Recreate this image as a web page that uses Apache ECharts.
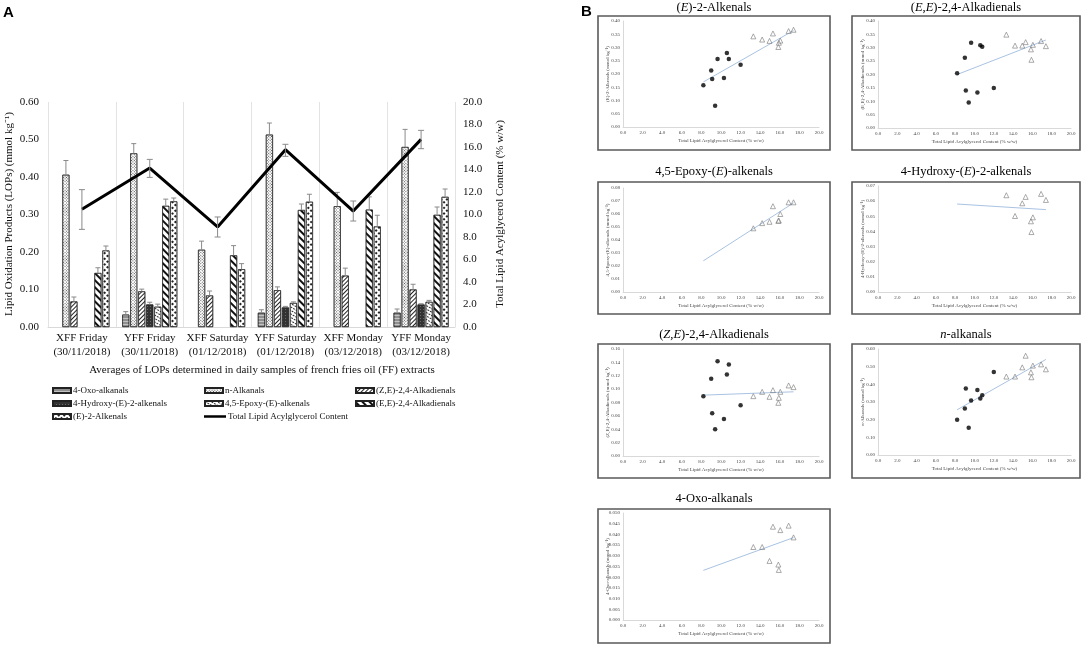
<!DOCTYPE html>
<html><head><meta charset="utf-8">
<script src="https://cdn.jsdelivr.net/npm/echarts@6.0.0/dist/echarts.min.js"></script>
<style>html,body{margin:0;padding:0;background:#fff}#c{width:1084px;height:646px}</style>
</head><body><div id="c"></div>
<script>
// ---------- Panel A data ----------
const categories = ['XFF Friday\n(30/11/2018)','YFF Friday\n(30/11/2018)','XFF Saturday\n(01/12/2018)','YFF Saturday\n(01/12/2018)','XFF Monday\n(03/12/2018)','YFF Monday\n(03/12/2018)'];
const seriesNames = ['4-Oxo-alkanals','n-Alkanals','(Z,E)-2,4-Alkadienals','4-Hydroxy-(E)-2-alkenals','4,5-Epoxy-(E)-alkenals','(E,E)-2,4-Alkadienals','(E)-2-Alkenals','Total Lipid Acylglycerol Content'];
const oxo    = [null, 0.033, null, 0.038, null, 0.038];
const oxoErr = [null, 0.008, null, 0.008, null, 0.010];
const nalk    = [0.406, 0.463, 0.206, 0.513, 0.322, 0.480];
const nalkErr = [0.038, 0.026, 0.023, 0.031, 0.037, 0.047];
const zeBar    = [0.068, 0.095, 0.084, 0.098, 0.137, 0.100];
const zeBarErr = [0.012, 0.006, 0.012, 0.009, 0.020, 0.014];
const hyd    = [null, 0.060, null, 0.052, null, 0.060];
const hydErr = [null, 0.006, null, 0.003, null, 0.002];
const epo    = [null, 0.054, null, 0.064, null, 0.067];
const epoErr = [null, 0.007, null, 0.003, null, 0.004];
const eeBar    = [0.144, 0.323, 0.191, 0.312, 0.313, 0.299];
const eeBarErr = [0.014, 0.018, 0.026, 0.016, 0.034, 0.021];
const e2Bar    = [0.204, 0.335, 0.154, 0.334, 0.268, 0.347];
const e2BarErr = [0.012, 0.009, 0.015, 0.020, 0.030, 0.021];
const tlac     = [10.46, 14.13, 8.89, 15.76, 10.31, 16.68];
const tlacLow  = [8.68, 13.30, 8.00, 15.17, 9.42, 15.85];
const tlacHigh = [12.21, 14.90, 9.78, 16.24, 11.20, 17.48];
const leftTicks = {min: 0, max: 0.6, interval: 0.1};
const rightTicks = {min: 0, max: 20, interval: 2};

// ---------- Panel B data ----------
const xffX = [8.2, 9.0, 9.1, 9.4, 9.65, 10.3, 10.6, 10.8, 12.0];
const yffX = [13.3, 14.2, 14.95, 15.3, 15.85, 15.9, 16.05, 16.9, 17.4];
const trendX = [8.2, 17.4];
const e2Xff = [0.158, 0.213, 0.181, 0.080, 0.257, 0.185, 0.279, 0.257, 0.235];
const e2Yff = [0.342, 0.330, 0.325, 0.353, 0.302, 0.318, 0.326, 0.362, 0.367];
const e2Trend = [0.170, 0.364];
const eeXff = [0.205, 0.263, 0.140, 0.095, 0.319, 0.133, 0.309, 0.304, 0.150];
const eeYff = [0.349, 0.308, 0.308, 0.321, 0.294, 0.255, 0.311, 0.325, 0.306];
const eeTrend = [0.200, 0.329];
const epYff = [0.049, 0.053, 0.054, 0.066, 0.0547, 0.055, 0.060, 0.069, 0.069];
const epTrend = [0.024, 0.0685];
const hyYff = [0.0639, 0.0502, 0.0586, 0.0628, 0.0467, 0.0396, 0.0493, 0.0648, 0.0608];
const hyTrend = [0.0581, 0.0544];
const zeXff = [0.0895, 0.1155, 0.064, 0.040, 0.1415, 0.0555, 0.122, 0.137, 0.076];
const zeYff = [0.0895, 0.096, 0.0885, 0.0985, 0.0795, 0.087, 0.096, 0.1055, 0.103];
const zeTrend = [0.091, 0.096];
const naXff = [0.199, 0.263, 0.376, 0.154, 0.308, 0.368, 0.3195, 0.338, 0.470];
const naYff = [0.444, 0.444, 0.496, 0.562, 0.468, 0.440, 0.506, 0.513, 0.485];
const naTrend = [0.256, 0.541];
const oxYff = [0.0341, 0.0341, 0.0276, 0.0436, 0.0259, 0.0234, 0.042, 0.0441, 0.0386];
const oxTrend = [0.0232, 0.0385];
const scatterTitles = ['({i|E})-2-Alkenals','({i|E},{i|E})-2,4-Alkadienals','4,5-Epoxy-({i|E})-alkenals','4-Hydroxy-({i|E})-2-alkenals','({i|Z},{i|E})-2,4-Alkadienals','{i|n}-alkanals','4-Oxo-alkanals'];
const scatterYNames = ['(E)-2-Alkenals (mmol kg\u207B\u00B9)','(E,E)-2,4-Alkadienals (mmol kg\u207B\u00B9)','4,5-Epoxy-(E)-alkenals (mmol kg\u207B\u00B9)','4-Hydroxy-(E)-2-alkenals (mmol kg\u207B\u00B9)','(Z,E)-2,4-Alkadienals (mmol kg\u207B\u00B9)','n-Alkanals (mmol kg\u207B\u00B9)','4-Oxo-alkanals (mmol kg\u207B\u00B9)'];
const scatterYTicks = [[0.40,0.05,2],[0.40,0.05,2],[0.08,0.01,2],[0.07,0.01,2],[0.16,0.02,2],[0.60,0.10,2],[0.050,0.005,3]];
const scatterXName = 'Total Lipid Acylglycerol Content (% w/w)';
const scatterSets = [
  [e2Xff, e2Yff, e2Trend],
  [eeXff, eeYff, eeTrend],
  [null, epYff, epTrend],
  [null, hyYff, hyTrend],
  [zeXff, zeYff, zeTrend],
  [naXff, naYff, naTrend],
  [null, oxYff, oxTrend]
];

// ---------- layout / style ----------
const SERIF = '"Liberation Serif", "Times New Roman", serif';
const SANS = '"Liberation Sans", Arial, sans-serif';
const BW = 7, STEP = 8;
const barStyles = [
  {color:'#8f8f8f', decal:{symbol:'rect', color:'rgba(255,255,255,0.45)', dashArrayX:[1,0], dashArrayY:[1,1.5], rotation:0}},
  {color:'#ffffff', decal:{symbol:'rect', color:'#555', dashArrayX:[[1,1]], dashArrayY:[1,1], rotation:Math.PI/4}},
  {color:'#ffffff', decal:{symbol:'rect', color:'#222', dashArrayX:[1,0], dashArrayY:[1,1.3], rotation:-Math.PI/4}},
  {color:'#333333', decal:{symbol:'rect', color:'#6a6a6a', dashArrayX:[[1,1.5]], dashArrayY:[1,1.5], rotation:0}},
  {color:'#ffffff', decal:{symbol:'rect', color:'#333', dashArrayX:[[2,1]], dashArrayY:[1,1.5], rotation:Math.PI/6}},
  {color:'#ffffff', decal:{symbol:'rect', color:'#111', dashArrayX:[1,0], dashArrayY:[1.2,2.3], rotation:Math.PI/4}},
  {color:'#ffffff', decal:{symbol:'rect', color:'#222', dashArrayX:[[1.5,1.5]], dashArrayY:[1.5,1.5], rotation:Math.PI/4}}
];
const barVals = [oxo, nalk, zeBar, hyd, epo, eeBar, e2Bar];
const barErrs = [oxoErr, nalkErr, zeBarErr, hydErr, epoErr, eeBarErr, e2BarErr];

const series = [];
barVals.forEach((vals, i) => {
  series.push({
    type:'bar', name: seriesNames[i], xAxisIndex:0, yAxisIndex:0,
    barWidth: BW, barGap: ((STEP-BW)/BW*100)+'%',
    itemStyle: {color: barStyles[i].color, decal: barStyles[i].decal, borderColor:'#222', borderWidth:0.6},
    data: vals, silent:true, z:2
  });
});
barVals.forEach((vals, i) => {
  const errs = barErrs[i];
  const data = [];
  vals.forEach((v,k) => { if (v != null) data.push([k, v, v + errs[k]]); });
  series.push({
    type:'custom', xAxisIndex:0, yAxisIndex:0, z:4, silent:true,
    encode:{x:0, y:[1,2]}, data,
    renderItem(params, api) {
      const c = api.value(0);
      const p0 = api.coord([c, api.value(1)]);
      const p1 = api.coord([c, api.value(2)]);
      const x = p0[0] + (i - 3) * STEP;
      const st = {stroke:'#8a8a8a', lineWidth:1};
      return {type:'group', children:[
        {type:'line', shape:{x1:x, y1:p0[1], x2:x, y2:p1[1]}, style:st},
        {type:'line', shape:{x1:x-2.5, y1:p1[1], x2:x+2.5, y2:p1[1]}, style:st}
      ]};
    }
  });
});
series.push({
  type:'line', name: seriesNames[7], xAxisIndex:0, yAxisIndex:1, data: tlac,
  showSymbol:false, symbol:'none', lineStyle:{color:'#000', width:3}, itemStyle:{color:'#000'}, z:6, silent:true
});
series.push({
  type:'custom', xAxisIndex:0, yAxisIndex:1, z:7, silent:true,
  encode:{x:0, y:[1,2]}, data: tlac.map((v,k)=>[k, tlacLow[k], tlacHigh[k]]),
  renderItem(params, api) {
    const c = api.value(0);
    const p0 = api.coord([c, api.value(1)]);
    const p1 = api.coord([c, api.value(2)]);
    const x = p0[0];
    const st = {stroke:'#8a8a8a', lineWidth:1};
    return {type:'group', children:[
      {type:'line', shape:{x1:x, y1:p0[1], x2:x, y2:p1[1]}, style:st},
      {type:'line', shape:{x1:x-3, y1:p1[1], x2:x+3, y2:p1[1]}, style:st},
      {type:'line', shape:{x1:x-3, y1:p0[1], x2:x+3, y2:p0[1]}, style:st}
    ]};
  }
});

// ---------- scatter grids ----------
const colLeft = [623, 878], colWidth = [196, 193];
const plotPos = [
  {c:0, top:21, h:106}, {c:1, top:21, h:107},
  {c:0, top:188, h:104}, {c:1, top:186, h:106},
  {c:0, top:349, h:107}, {c:1, top:349, h:106},
  {c:0, top:513, h:107}
];
const boxCol = [{x:598, w:232}, {x:852, w:228}];
const boxRow = [{y:16, h:134}, {y:182, h:132}, {y:344, h:134}, {y:509, h:134}];
const titleCx = [714, 966];
const titleY = [8, 172, 335, 499];

const grids = [{left:48, top:102, width:407, height:225, outerBoundsMode:'none'}];
const xAxes = [{
  type:'category', gridIndex:0, data: categories, boundaryGap:true,
  axisLine:{show:true, lineStyle:{color:'#d9d9d9', width:1}}, axisTick:{show:false},
  splitLine:{show:true, lineStyle:{color:'#e3e3e3', width:1}},
  axisLabel:{color:'#111', fontFamily:SERIF, fontSize:11, lineHeight:14, margin:4, interval:0}
}];
const yAxes = [
  {type:'value', gridIndex:0, min:leftTicks.min, max:leftTicks.max, interval:leftTicks.interval, position:'left',
   axisLine:{show:false}, axisTick:{show:false}, splitLine:{show:false},
   axisLabel:{color:'#111', fontFamily:SERIF, fontSize:11, margin:9, formatter:v=>v.toFixed(2)}},
  {type:'value', gridIndex:0, min:rightTicks.min, max:rightTicks.max, interval:rightTicks.interval, position:'right',
   axisLine:{show:false}, axisTick:{show:false}, splitLine:{show:false},
   axisLabel:{color:'#111', fontFamily:SERIF, fontSize:11, margin:8, formatter:v=>v.toFixed(1)}}
];
const graphics = [
  {type:'text', left:3, top:5, style:{text:'A', font:'bold 15px '+SANS, fill:'#000'}},
  {type:'text', left:581, top:4, style:{text:'B', font:'bold 15px '+SANS, fill:'#000'}},
  {type:'text', x:262, y:370, style:{text:'Averages of LOPs determined in daily samples of french fries oil (FF) extracts', font:'11px '+SERIF, fill:'#111', textAlign:'center', textVerticalAlign:'middle'}},
  {type:'text', x:9, y:214, rotation:Math.PI/2, style:{text:'Lipid Oxidation Products (LOPs) (mmol kg\u207B\u00B9)', font:'11px '+SERIF, fill:'#111', textAlign:'center', textVerticalAlign:'middle'}},
  {type:'text', x:500, y:214, rotation:Math.PI/2, style:{text:'Total Lipid Acylglycerol Content (% w/w)', font:'11px '+SERIF, fill:'#111', textAlign:'center', textVerticalAlign:'middle'}}
];
boxRow.forEach((r, ri) => {
  boxCol.forEach((c, ci) => {
    if (ri === 3 && ci === 1) return;
    graphics.push({type:'rect', shape:{x:c.x, y:r.y, width:c.w, height:r.h}, style:{fill:'none', stroke:'#5a5a5a', lineWidth:1.6}, z:10});
  });
});
scatterTitles.forEach((t, k) => {
  const p = plotPos[k];
  graphics.push({type:'text', x:titleCx[p.c], y:titleY[Math.floor(k/2)], style:{
    text:t, fontFamily:SERIF, fontSize:12.5, fill:'#000', textAlign:'center', textVerticalAlign:'middle',
    rich:{i:{fontFamily:SERIF, fontSize:12.5, fontStyle:'italic', fill:'#000'}}
  }});
});

scatterSets.forEach((set, k) => {
  const p = plotPos[k];
  const gi = k + 1;
  grids.push({left: colLeft[p.c], top: p.top, width: colWidth[p.c], height: p.h, outerBoundsMode:'none'});
  xAxes.push({type:'value', gridIndex:gi, min:0, max:20, interval:2,
    axisLine:{show:true, lineStyle:{color:'#d9d9d9'}}, axisTick:{show:false}, splitLine:{show:false},
    axisLabel:{fontSize:5, color:'#444', margin:3, fontFamily:SERIF, formatter:v=>v.toFixed(1)},
    name: scatterXName, nameLocation:'middle', nameGap:11, nameMoveOverlap:false,
    nameTextStyle:{fontSize:5, color:'#444', fontFamily:SERIF}});
  const yt = scatterYTicks[k];
  yAxes.push({type:'value', gridIndex:gi, min:0, max:yt[0], interval:yt[1],
    axisLine:{show:true, lineStyle:{color:'#d9d9d9'}}, axisTick:{show:false}, splitLine:{show:false},
    axisLabel:{fontSize:5, color:'#444', margin:3, fontFamily:SERIF, formatter:v=>v.toFixed(yt[2])},
    name: scatterYNames[k], nameLocation:'middle', nameGap:13, nameMoveOverlap:false,
    nameTextStyle:{fontSize:5, color:'#444', fontFamily:SERIF}});
  const xi = k + 1, yi = k + 2;
  if (set[0]) {
    series.push({type:'scatter', xAxisIndex:xi, yAxisIndex:yi, symbol:'circle', symbolSize:4.5,
      itemStyle:{color:'#000'}, data: xffX.map((x,j)=>[x, set[0][j]]), silent:true, z:3});
  }
  series.push({type:'scatter', xAxisIndex:xi, yAxisIndex:yi, symbol:'triangle', symbolSize:5,
    itemStyle:{color:'rgba(255,255,255,0)', borderColor:'#7a7a7a', borderWidth:0.8}, data: yffX.map((x,j)=>[x, set[1][j]]), silent:true, z:3});
  series.push({type:'line', xAxisIndex:xi, yAxisIndex:yi, showSymbol:false, symbol:'none',
    lineStyle:{color:'#a9c3e2', width:1}, data: trendX.map((x,j)=>[x, set[2][j]]), silent:true, z:2});
});

// ---------- legends ----------
const legendPos = [
  [52,392],[204,392],[355,392],
  [52,405],[204,405],[355,405],
  [52,418],[204,418]
];
const legends = seriesNames.map((n, i) => ({
  data:[n], left: legendPos[i][0], top: legendPos[i][1] - 6, padding:0,
  itemWidth: i === 7 ? 22 : 18, itemHeight: i === 7 ? 2.5 : 5, icon:'rect',
  selectedMode:false, textStyle:{fontFamily:SERIF, fontSize:9, color:'#111', padding:[0,0,0,-3]}
}));

const chart = echarts.init(document.getElementById('c'), null, {renderer:'canvas'});
chart.setOption({
  backgroundColor:'#fff', animation:false,
  grid: grids, xAxis: xAxes, yAxis: yAxes, series, legend: legends, graphic: graphics
});
</script>
</body></html>
